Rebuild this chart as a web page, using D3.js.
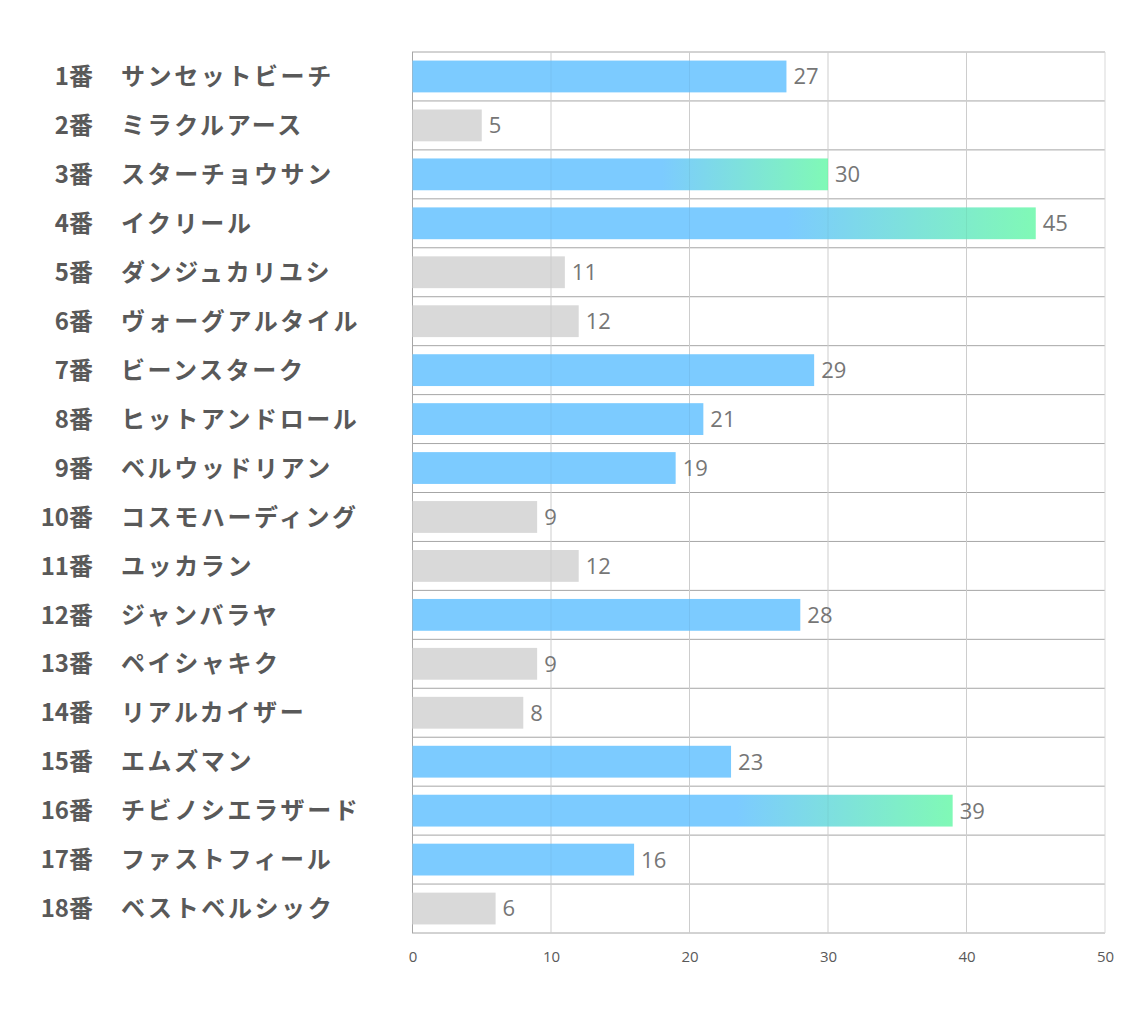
<!DOCTYPE html>
<html><head><meta charset="utf-8">
<script src="https://cdn.jsdelivr.net/npm/d3@7"></script>
<style>body{margin:0;background:#fff;} svg{display:block;}</style>
</head><body>
<svg id="c" width="1134" height="1020"></svg>
<script>
const numbers = ["1番","2番","3番","4番","5番","6番","7番","8番","9番","10番","11番","12番","13番","14番","15番","16番","17番","18番"];
const names = ["サンセットビーチ","ミラクルアース","スターチョウサン","イクリール","ダンジュカリユシ","ヴォーグアルタイル","ビーンスターク","ヒットアンドロール","ベルウッドリアン","コスモハーディング","ユッカラン","ジャンバラヤ","ペイシャキク","リアルカイザー","エムズマン","チビノシエラザード","ファストフィール","ベストベルシック"];
const values = [27,5,30,45,11,12,29,21,19,9,12,28,9,8,23,39,16,6];
const kinds = ["blue","gray","grad","grad","gray","gray","blue","blue","blue","gray","gray","blue","gray","gray","blue","grad","blue","gray"];
const tickValues = [0,10,20,30,40,50];

const svg = d3.select("#c");
const x = d3.scaleLinear().domain([0,50]).range([412.5,1105]);
const y = d3.scaleBand().domain(numbers).range([52,933]).paddingInner(0.35).paddingOuter(0.175);
const rowY = d3.scaleBand().domain(numbers).range([52,933]);

const defs = svg.append("defs");
const g = defs.append("linearGradient").attr("id","grad").attr("x1","0").attr("x2","1").attr("y1","0").attr("y2","0");
g.append("stop").attr("offset","0.6").attr("stop-color","#7ccbff");
g.append("stop").attr("offset","1").attr("stop-color","#80f9b6");

// row separators
svg.append("g").selectAll("line").data(d3.range(numbers.length+1)).join("line")
  .attr("x1",412).attr("x2",1105)
  .attr("y1",i=>52+i*rowY.step()).attr("y2",i=>52+i*rowY.step())
  .attr("stroke","#a6a6a6").attr("stroke-width",1);

// vertical grid
svg.append("g").selectAll("line").data(tickValues).join("line")
  .attr("x1",d=>x(d)).attr("x2",d=>x(d)).attr("y1",52).attr("y2",933)
  .attr("stroke",d=>d===0?"#a6a6a6":"#d9d9d9").attr("stroke-width",1);

const fills = {blue:"#7ccbff", gray:"#d9d9d9", grad:"url(#grad)"};
svg.append("g").selectAll("rect").data(values).join("rect")
  .attr("x",x(0)).attr("y",(d,i)=>y(numbers[i]))
  .attr("width",d=>x(d)-x(0)).attr("height",y.bandwidth())
  .attr("fill",(d,i)=>fills[kinds[i]]);

// faint gridlines visible through bars
svg.append("g").selectAll("line").data(tickValues.slice(1,5)).join("line")
  .attr("x1",d=>x(d)).attr("x2",d=>x(d)).attr("y1",52).attr("y2",933)
  .attr("stroke","rgba(0,0,0,0.05)").attr("stroke-width",1);

// value labels
svg.append("g").selectAll("text").data(values).join("text")
  .attr("x",d=>x(d)+7).attr("y",(d,i)=>rowY(numbers[i])+rowY.bandwidth()/2)
  .attr("dy","0.36em").attr("fill","#767676")
  .attr("font-family","'Open Sans','Noto Sans',sans-serif").attr("font-size",22)
  .text(d=>d);

// category labels
const lab = svg.append("g").attr("font-family","'Noto Sans CJK JP',sans-serif").attr("font-weight","bold").attr("font-size",24).attr("fill","#595959");
lab.selectAll("text.n").data(numbers).join("text").attr("class","n")
  .attr("x",93).attr("y",d=>rowY(d)+rowY.bandwidth()/2).attr("dy","0.36em")
  .attr("text-anchor","end").text(d=>d);
lab.selectAll("text.m").data(names).join("text").attr("class","m")
  .attr("x",121).attr("y",(d,i)=>rowY(numbers[i])+rowY.bandwidth()/2).attr("dy","0.36em")
  .attr("letter-spacing","2.6px").text(d=>d);

// x axis
const ax = svg.append("g").attr("transform","translate(0,933)")
  .call(d3.axisBottom(x).tickValues(tickValues).tickSize(0).tickPadding(18));
ax.select(".domain").remove();
ax.selectAll("text").attr("fill","#595959").attr("font-size",15).attr("font-family","'Open Sans','Noto Sans',sans-serif");
</script>
</body></html>
